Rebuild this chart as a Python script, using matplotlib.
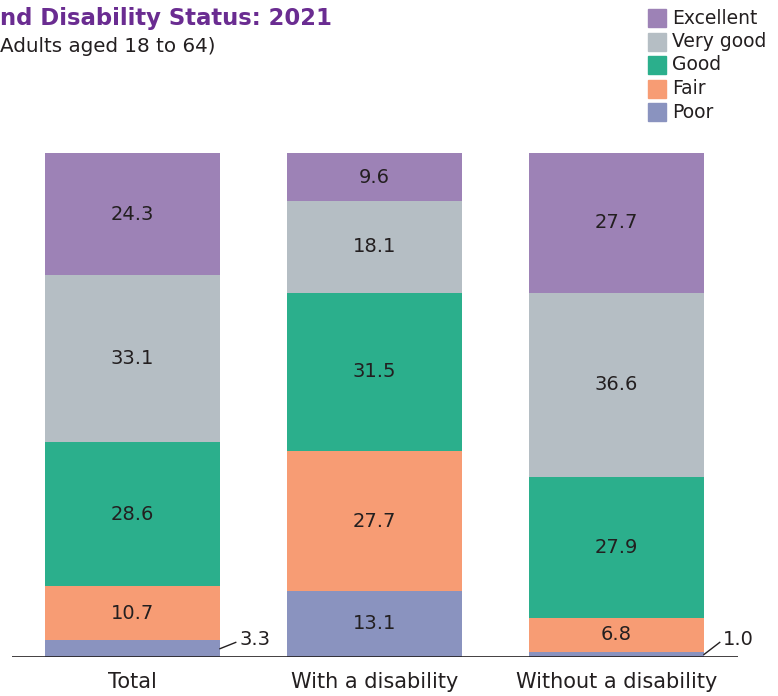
import numpy as np
import matplotlib.pyplot as plt
from matplotlib.patches import Rectangle

plt.rcParams['font.family'] = ['DejaVu Sans']

groups = ["Total", "With a disability", "Without a disability"]
ratings = ["Excellent", "Very good", "Good", "Fair", "Poor"]
colors = ["#9D82B6", "#B5BEC4", "#2BAF8C", "#F79C74", "#8A93BF"]

# percent of adults in each rating, bottom-up order is reversed below
excellent = [24.3, 9.6, 27.7]
very_good = [33.1, 18.1, 36.6]
good = [28.6, 31.5, 27.9]
fair = [10.7, 27.7, 6.8]
poor = [3.3, 13.1, 1.0]

series = [excellent, very_good, good, fair, poor]
text_color = "#231F20"

W, H = 778, 696
fig = plt.figure(figsize=(W / 100, H / 100), dpi=100)
ax = fig.add_axes([11.5 / W, 39 / H, 726 / W, 504 / H])

x = np.arange(len(groups))
width = 175 / 242
bottom = np.zeros(len(groups))
# stack from Poor upward
for name, vals, col in reversed(list(zip(ratings, series, colors))):
    vals = np.array(vals)
    ax.bar(x, vals, width, bottom=bottom, color=col, edgecolor="none")
    for i, v in enumerate(vals):
        if v >= 5:
            ax.text(x[i], bottom[i] + v / 2, f"{v:.1f}", ha="center", va="center",
                    fontsize=14, color=text_color)
        else:
            # small segment: label to the right with a short leader line
            y0 = bottom[i] + v / 2
            x0 = x[i] + width / 2
            ax.plot([x0, x0 + 0.065], [y0, 2.9], color=text_color, lw=1,
                    clip_on=False)
            ax.text(x0 + 0.08, 3.4, f"{v:.1f}", ha="left", va="center",
                    fontsize=14, color=text_color)
    bottom += vals

ax.set_xlim(-0.5, 2.5)
ax.set_ylim(0, 100)
ax.axhline(0, color=text_color, lw=1.2)
for s in ax.spines.values():
    s.set_visible(False)
ax.set_yticks([])
ax.set_xticks(x)
ax.set_xticklabels(groups, fontsize=15, color=text_color)
ax.tick_params(axis="x", length=0, pad=11)

# title and subtitle
fig.text(0, 1 - 18 / H, "nd Disability Status: 2021", ha="left", va="center",
         fontsize=16.4, fontweight="bold", color="#6A2C91")
fig.text(0, 1 - 47 / H, "Adults aged 18 to 64)", ha="left", va="center",
         fontsize=14.3, color=text_color)

# legend
for k, (name, col) in enumerate(zip(ratings, colors)):
    yc = 18 + k * 23.5
    fig.patches.append(Rectangle((648 / W, 1 - (yc + 9) / H), 18 / W, 18 / H,
                                 transform=fig.transFigure, color=col))
    fig.text(672 / W, 1 - yc / H, name, ha="left", va="center", fontsize=13.5,
             color=text_color)

fig.savefig("out.png", dpi=100)
